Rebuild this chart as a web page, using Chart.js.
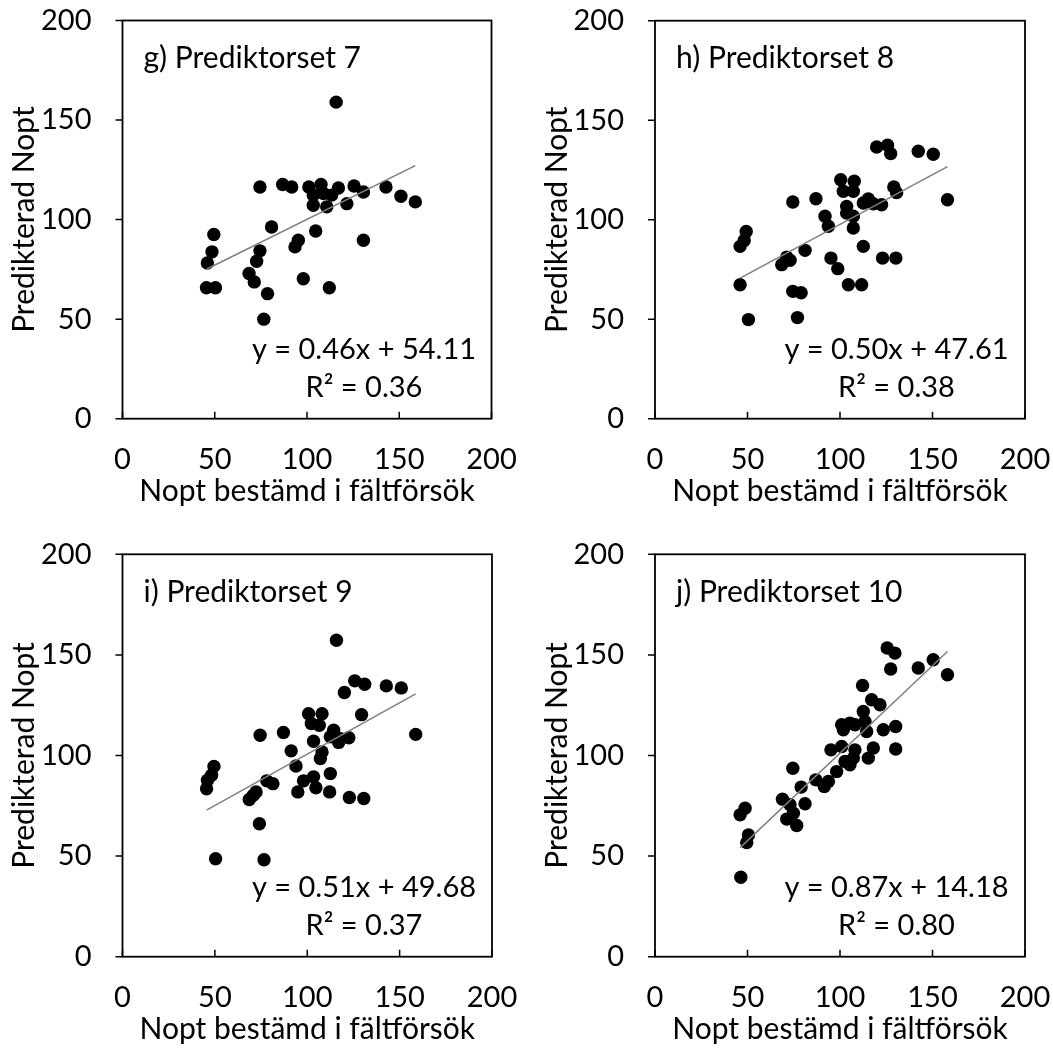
<!DOCTYPE html>
<html>
<head>
<meta charset="utf-8">
<script src="https://cdn.jsdelivr.net/npm/chart.js@4.4.1/dist/chart.umd.min.js"></script>
<style>
  html, body { margin: 0; padding: 0; background: #ffffff; }
  #wrap { position: relative; width: 1053px; height: 1053px; overflow: hidden; }
  canvas { position: absolute; }
</style>
</head>
<body>
<div id="wrap">
  <canvas id="panel7" width="526" height="526" style="left:0px;top:0px"></canvas>
  <canvas id="panel8" width="527" height="526" style="left:526px;top:0px"></canvas>
  <canvas id="panel9" width="526" height="527" style="left:0px;top:526px"></canvas>
  <canvas id="panel10" width="527" height="527" style="left:526px;top:526px"></canvas>
</div>
<script>
// ---- values ----
const panelTitles = ['g) Prediktorset 7', 'h) Prediktorset 8', 'i) Prediktorset 9', 'j) Prediktorset 10'];
const xAxisTitle = 'Nopt bestämd i fältförsök';
const yAxisTitle = 'Predikterad Nopt';
const axisTicks = [0, 50, 100, 150, 200];

const trendSlopes = [0.46, 0.50, 0.51, 0.87];
const trendIntercepts = [54.11, 47.61, 49.68, 14.18];
const rSquared = [0.36, 0.38, 0.37, 0.80];

const set7Measured  = [45.5, 50.4, 46.0, 48.5, 49.5, 68.6, 71.4, 72.7, 74.5, 74.5, 76.6, 78.6, 80.8, 86.8, 91.7, 93.5, 95.3, 98.0, 101.0, 107.6, 103.4, 109.0, 117.0, 125.5, 130.6, 113.4, 103.4, 110.7, 121.6, 104.7, 130.6, 112.1, 115.8, 142.8, 150.9, 158.7];
const set7Predicted = [65.8, 65.8, 78.2, 83.8, 92.5, 72.9, 68.7, 79.1, 84.3, 116.4, 50.0, 62.8, 96.3, 117.6, 116.4, 86.3, 89.6, 70.3, 116.4, 117.6, 112.3, 113.1, 115.9, 116.9, 113.9, 112.3, 107.2, 106.4, 108.0, 94.3, 89.6, 65.8, 159.0, 116.4, 111.7, 108.9];

const set8Measured  = [119.8, 125.7, 127.4, 142.3, 150.4, 158.1, 100.4, 107.7, 101.8, 107.2, 129.1, 130.6, 74.5, 87.0, 115.3, 112.6, 118.0, 122.5, 103.6, 103.6, 107.2, 91.9, 93.7, 107.2, 49.3, 48.2, 46.0, 81.1, 112.6, 71.2, 68.5, 73.0, 95.1, 98.8, 123.0, 130.2, 46.0, 104.5, 111.7, 74.5, 79.0, 50.5, 77.0];
const set8Predicted = [136.5, 137.4, 133.2, 134.4, 132.9, 110.0, 120.1, 119.3, 114.3, 114.3, 116.4, 113.6, 108.9, 110.5, 110.4, 108.4, 108.0, 107.5, 106.7, 103.4, 101.7, 101.7, 96.7, 95.8, 94.1, 89.6, 86.6, 84.6, 86.6, 81.2, 77.4, 79.6, 80.7, 75.4, 80.7, 80.7, 67.3, 67.3, 67.3, 64.0, 63.3, 49.8, 50.8];

const set9Measured  = [115.8, 120.1, 125.7, 131.1, 142.8, 150.9, 158.7, 129.4, 100.7, 108.0, 102.2, 106.5, 74.5, 87.1, 114.3, 112.5, 118.0, 122.5, 117.0, 103.4, 91.3, 108.0, 107.1, 93.9, 49.5, 48.2, 46.0, 45.5, 112.5, 103.4, 98.0, 78.1, 81.4, 94.9, 104.7, 112.1, 122.8, 130.6, 72.3, 70.8, 68.6, 74.1, 50.4, 76.6];
const set9Predicted = [157.3, 131.3, 137.1, 135.4, 134.6, 133.6, 110.5, 120.3, 120.8, 120.8, 115.9, 115.0, 110.1, 111.4, 112.6, 109.3, 108.4, 108.8, 106.5, 107.1, 102.3, 101.8, 98.5, 94.8, 94.6, 90.2, 87.7, 83.5, 91.0, 89.4, 87.4, 87.4, 86.0, 81.9, 84.0, 81.9, 79.1, 78.6, 81.9, 80.2, 78.1, 66.1, 48.7, 48.2];

const set10Measured  = [125.5, 129.7, 127.4, 142.3, 150.4, 158.1, 112.2, 117.1, 121.6, 112.6, 100.9, 105.4, 113.5, 114.4, 123.4, 130.1, 130.1, 95.1, 100.9, 108.1, 118.0, 115.3, 107.2, 102.7, 105.4, 98.2, 101.8, 108.1, 93.7, 91.5, 86.9, 74.5, 79.0, 81.1, 68.9, 73.0, 74.8, 71.2, 76.6, 48.7, 46.0, 50.5, 49.6, 46.4];
const set10Predicted = [153.4, 150.9, 143.0, 143.5, 147.6, 140.1, 134.8, 127.7, 125.2, 121.9, 115.3, 116.1, 116.9, 111.9, 112.8, 114.4, 103.2, 102.8, 104.5, 102.8, 103.7, 98.7, 98.7, 97.0, 95.4, 92.0, 112.8, 115.3, 87.1, 84.6, 87.9, 93.7, 84.3, 76.0, 78.3, 75.5, 71.3, 68.4, 65.2, 73.8, 70.5, 60.5, 56.7, 39.5];

const measuredSets = [set7Measured, set8Measured, set9Measured, set10Measured];
const predictedSets = [set7Predicted, set8Predicted, set9Predicted, set10Predicted];

// ---- layout of each panel's plot frame inside its canvas ----
const FONT = 'Lato';
const TEXT_SIZE = 30;   // axis titles and panel headings
const NUM_SIZE = 29;    // tick labels and regression text
const panels = [
  { id: 'panel7',  w: 526, h: 526, left: 122.5, top: 20.5, right: 491.5, bottom: 418.7 },
  { id: 'panel8',  w: 527, h: 526, left: 129,   top: 20.7, right: 499,   bottom: 418.7 },
  { id: 'panel9',  w: 526, h: 527, left: 122.5, top: 28.3, right: 492,   bottom: 430.7 },
  { id: 'panel10', w: 527, h: 527, left: 129,   top: 28.3, right: 499,   bottom: 430.7 }
];

// frame, tick marks, panel heading and regression text
const panelDecor = {
  id: 'panelDecor',
  afterDatasetsDraw(chart, args, opts) {
    const { ctx, chartArea: a, scales: { x, y } } = chart;
    ctx.save();
    ctx.strokeStyle = '#000';
    ctx.lineWidth = 1.8;
    ctx.strokeRect(a.left, a.top, a.right - a.left, a.bottom - a.top);
    ctx.lineWidth = 1.5;
    ctx.beginPath();
    axisTicks.forEach(v => {
      const py = y.getPixelForValue(v);
      ctx.moveTo(a.left - 7, py); ctx.lineTo(a.left, py);
      const px = x.getPixelForValue(v);
      ctx.moveTo(px, a.bottom); ctx.lineTo(px, a.bottom - 7);
    });
    ctx.stroke();

    ctx.fillStyle = '#000';
    ctx.textBaseline = 'middle';
    ctx.textAlign = 'left';
    ctx.font = TEXT_SIZE + 'px ' + FONT;
    ctx.fillText(opts.heading, a.left + 21, a.top + 38);
    ctx.textAlign = 'center';
    ctx.font = NUM_SIZE + 'px ' + FONT;
    const cx = a.left + 241.5;
    ctx.fillText(opts.equation, cx, a.bottom - 69);
    ctx.fillText(opts.r2, cx, a.bottom - 31);
    ctx.restore();
  }
};

// keep the plot frame exactly where the layout puts it
function dropLabelPadding(s) {
  s.paddingTop = 0; s.paddingBottom = 0; s.paddingLeft = 0; s.paddingRight = 0;
}

function buildPanel(i) {
  const p = panels[i];
  const xs = measuredSets[i];
  const ys = predictedSets[i];
  const points = xs.map((v, k) => ({ x: v, y: ys[k] }));
  const xMin = Math.min(...xs), xMax = Math.max(...xs);
  const slope = trendSlopes[i], icpt = trendIntercepts[i];
  const trend = [
    { x: xMin, y: slope * xMin + icpt },
    { x: xMax, y: slope * xMax + icpt }
  ];
  const titleHalf = TEXT_SIZE * 1.2 / 2;
  const titleFont = { family: FONT, size: TEXT_SIZE };
  const tickFont = { family: FONT, size: NUM_SIZE };

  new Chart(document.getElementById(p.id), {
    type: 'scatter',
    data: {
      datasets: [
        { data: trend, showLine: true, borderColor: '#7f7f7f', borderWidth: 1.5,
          pointRadius: 0, pointHoverRadius: 0, fill: false, order: 0 },
        { data: points, backgroundColor: '#000', borderWidth: 0,
          pointRadius: 6.7, pointHoverRadius: 6.7, order: 1 }
      ]
    },
    options: {
      responsive: false,
      animation: false,
      devicePixelRatio: 1,
      events: [],
      layout: { padding: { left: 0, top: p.top, right: p.w - p.right, bottom: 0 } },
      plugins: {
        legend: { display: false },
        tooltip: { enabled: false },
        panelDecor: {
          heading: panelTitles[i],
          equation: 'y = ' + slope.toFixed(2) + 'x + ' + icpt.toFixed(2),
          r2: 'R\u00B2 = ' + rSquared[i].toFixed(2)
        }
      },
      scales: {
        x: {
          type: 'linear', min: 0, max: 200,
          afterBuildTicks(s) { s.ticks = axisTicks.map(v => ({ value: v })); },
          afterFit(s) { s.height = p.h - p.bottom; dropLabelPadding(s); },
          grid: { display: false, drawTicks: false },
          border: { display: false },
          ticks: { padding: 24, color: '#000', font: tickFont, maxRotation: 0, autoSkip: false },
          title: { display: true, text: xAxisTitle, color: '#000', font: titleFont,
                   padding: { top: 0, bottom: p.h - (p.bottom + 72.5) - titleHalf } }
        },
        y: {
          type: 'linear', min: 0, max: 200,
          afterBuildTicks(s) { s.ticks = axisTicks.map(v => ({ value: v })); },
          afterFit(s) { s.width = p.left; dropLabelPadding(s); },
          grid: { display: false, drawTicks: false },
          border: { display: false },
          ticks: { padding: 31, color: '#000', font: tickFont, autoSkip: false },
          title: { display: true, text: yAxisTitle, color: '#000', font: titleFont,
                   padding: { top: (p.left - 98) - titleHalf, bottom: 0 } }
        }
      }
    },
    plugins: [panelDecor]
  });
}

function drawAll() { for (let i = 0; i < panels.length; i++) buildPanel(i); }
if (document.fonts && document.fonts.load) {
  document.fonts.load(TEXT_SIZE + 'px ' + FONT).then(drawAll, drawAll);
} else {
  drawAll();
}
</script>
</body>
</html>
